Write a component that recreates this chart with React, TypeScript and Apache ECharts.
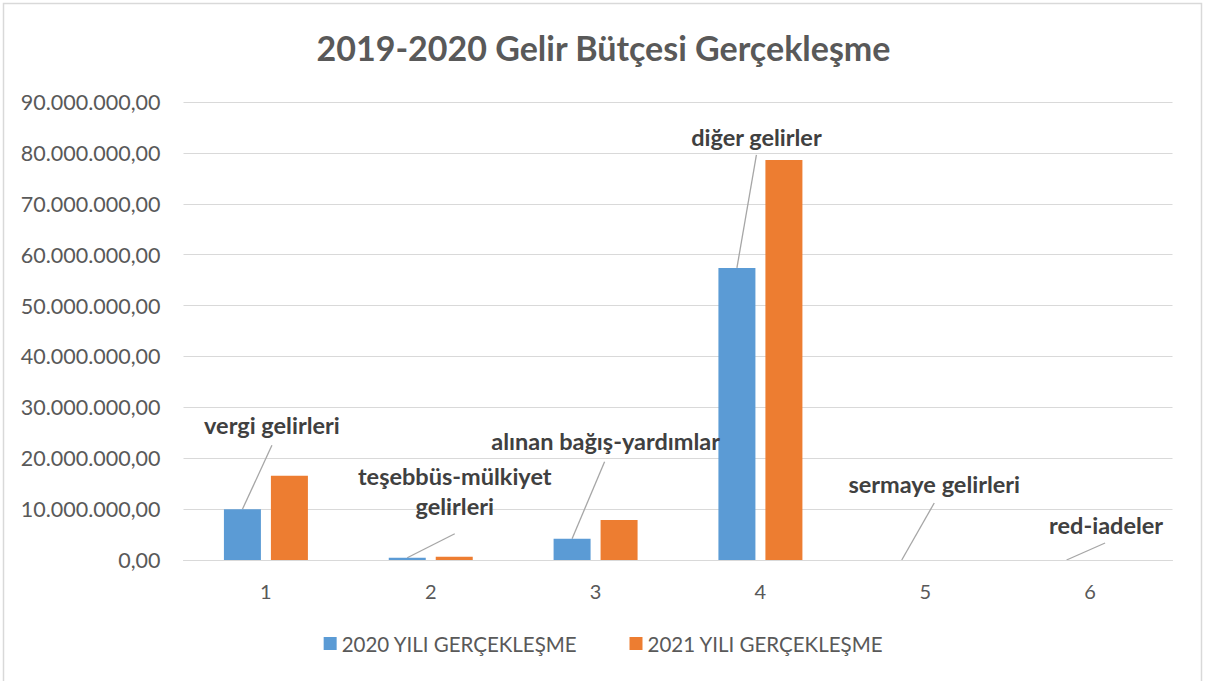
import React, { useEffect, useRef } from "react";
import * as echarts from "echarts";

const categories = ["1", "2", "3", "4", "5", "6"];
const series2020 = [9960000, 450000, 4180000, 57400000, 0, 0];
const series2021 = [16560000, 650000, 7860000, 78600000, 0, 0];
const labelNames = [
  "vergi gelirleri",
  "teşebbüs-mülkiyet\ngelirleri",
  "alınan bağış-yardımlar",
  "diğer gelirler",
  "sermaye gelirleri",
  "red-iadeler",
];
const seriesNames = ["2020 YILI GERÇEKLEŞME", "2021 YILI GERÇEKLEŞME"];
const yTicks = { min: 0, max: 90000000, interval: 10000000 };

// label placement relative to blue bar top-center: [dx, dy of label bottom]
const labelOffsets: [number, number][] = [
  [29.5, -69],
  [47.5, -37],
  [33.5, -83],
  [19.5, -116],
  [32.5, -61],
  [39.5, -20],
];
// leader line end relative to blue bar top-center
const lineEnds: [number, number][] = [
  [29.5, -64],
  [47.5, -24],
  [32.5, -77],
  [19.5, -113],
  [32.5, -57],
  [38.5, -17],
];

const BAR_W = 37;

function fmt(v: number): string {
  const s = Math.round(v).toString().replace(/\B(?=(\d{3})+(?!\d))/g, ".");
  return s + ",00";
}

export default function App() {
  const ref = useRef<HTMLDivElement>(null);
  useEffect(() => {
    if (!ref.current) return;
    const chart = echarts.init(ref.current, undefined, { renderer: "svg" });
    const font = "Lato, 'Open Sans', sans-serif";
    chart.setOption({
      animation: false,
      backgroundColor: "#ffffff",
      title: {
        text: "2019-2020 Gelir Bütçesi Gerçekleşme",
        left: "center",
        top: 25,
        textStyle: { fontFamily: font, fontSize: 34, fontWeight: "bold", color: "#595959" },
      },
      grid: { left: 183.5, right: 34.5, top: 102, bottom: 121, containLabel: false },
      legend: {
        bottom: 22,
        left: "center",
        icon: "rect",
        itemWidth: 13,
        itemHeight: 13,
        itemGap: 52,
        textStyle: { fontFamily: font, fontSize: 20.5, color: "#595959" },
        data: seriesNames,
      },
      xAxis: {
        type: "category",
        data: categories,
        axisLine: { lineStyle: { color: "#d9d9d9", width: 1 } },
        axisTick: { show: false },
        axisLabel: { fontFamily: font, fontSize: 20, color: "#595959", margin: 21 },
      },
      yAxis: {
        type: "value",
        min: yTicks.min,
        max: yTicks.max,
        interval: yTicks.interval,
        axisLine: { show: false },
        axisTick: { show: false },
        splitLine: { lineStyle: { color: "#d9d9d9", width: 1 } },
        axisLabel: { fontFamily: font, fontSize: 21.5, color: "#595959", margin: 23, formatter: (v: number) => fmt(v) },
      },
      series: [
        {
          name: seriesNames[0],
          type: "bar",
          barWidth: BAR_W,
          barGap: "27%",
          itemStyle: { color: "#5B9BD5" },
          data: series2020.map((v, i) => ({
            value: v,
            label: {
              show: true,
              position: [BAR_W / 2 + labelOffsets[i][0], labelOffsets[i][1]],
              align: "center",
              verticalAlign: "bottom",
              formatter: () => labelNames[i],
              fontFamily: font,
              fontSize: 23.5,
              fontWeight: "bold",
              lineHeight: 30,
              color: "#404040",
            },
          })),
        },
        {
          name: seriesNames[1],
          type: "bar",
          barWidth: BAR_W,
          barGap: "27%",
          itemStyle: { color: "#ED7D31" },
          data: series2021,
        },
      ],
    });

    const lines: any[] = [];
    try {
      const data = (chart as any).getModel().getSeriesByIndex(0).getData();
      for (let i = 0; i < categories.length; i++) {
        const l = data.getItemLayout(i);
        const cx = l.x + l.width / 2;
        const top = Math.min(l.y, l.y + l.height);
        lines.push({
          type: "line",
          silent: true,
          shape: { x1: cx, y1: top, x2: cx + lineEnds[i][0], y2: top + lineEnds[i][1] },
          style: { stroke: "#a6a6a6", lineWidth: 1.3 },
        });
      }
    } catch (e) {}
    chart.setOption({
      graphic: [
        {
          type: "rect",
          silent: true,
          shape: { x: 3.5, y: 3.5, width: 1198, height: 700 },
          style: { fill: "none", stroke: "#d9d9d9", lineWidth: 1.5 },
        },
        ...lines,
      ],
    });
    return () => chart.dispose();
  }, []);
  return (
    <div
      ref={ref}
      style={{ position: "absolute", left: 0, top: 0, width: 1207, height: 681 }}
    />
  );
}
